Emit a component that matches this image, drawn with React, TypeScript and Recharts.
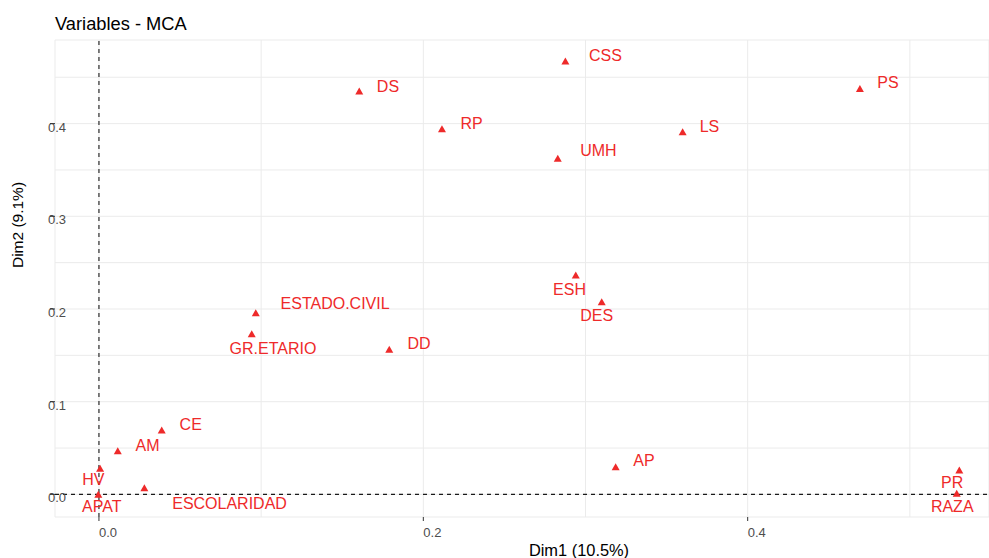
import React from 'react';
import { ScatterChart, Scatter, XAxis, YAxis, CartesianGrid, ReferenceLine } from 'recharts';

const categories = ['CSS', 'PS', 'LS', 'UMH', 'DS', 'RP', 'ESH', 'DES', 'ESTADO.CIVIL', 'GR.ETARIO', 'DD', 'CE', 'AM', 'HV', 'ESCOLARIDAD', 'APAT', 'AP', 'PR', 'RAZA'];
const dim1 = [0.2876, 0.4692, 0.3599, 0.2829, 0.1605, 0.2115, 0.294, 0.31, 0.0967, 0.0942, 0.179, 0.0387, 0.0116, 0.0007, 0.028, -0.0004, 0.3186, 0.5305, 0.5289];
const dim2 = [0.4675, 0.438, 0.3913, 0.3626, 0.4352, 0.3945, 0.2367, 0.2079, 0.196, 0.1734, 0.1565, 0.0695, 0.0471, 0.0282, 0.0072, 0.0001, 0.0299, 0.0263, 0.0012];

// repelled label offsets (pixels from the point to the label centre)
const labelDx = [40, 28, 26.8, 40.6, 28.7, 29.7, -6.2, -5, 79.3, 21.3, 29.7, 29, 29.8, -6.7, 85.2, 3.4, 28.3, -7.1, -4.5];
const labelDy = [-6, -6, -5.7, -7.6, -4.8, -5.4, 14.5, 13.3, -9.7, 15, -6, -6, -5.7, 11.4, 15.6, 12, -6.7, 12.5, 13];

const xTicks = [0, 0.1, 0.2, 0.3, 0.4, 0.5];
const xLabelTicks = [0, 0.2, 0.4];
const yTicks = [0, 0.05, 0.1, 0.15, 0.2, 0.25, 0.3, 0.35, 0.4, 0.45];
const yLabelTicks = [0, 0.1, 0.2, 0.3, 0.4];

const data = categories.map((name, i) => ({ name, x: dim1[i], y: dim2[i], dx: labelDx[i], dy: labelDy[i] }));

const RED = '#EE2A2A';
const FONT = '"Liberation Sans", Arial, Helvetica, sans-serif';

const isMajor = (v: number, list: number[]) => list.some((t) => Math.abs(t - v) < 1e-9);

const XTick = (props: any) => {
  const { x, payload } = props;
  if (!isMajor(payload.value, xLabelTicks)) return null;
  return (
    <g>
      <line x1={x} x2={x} y1={517} y2={521} stroke="#333" strokeWidth={1} />
      <text x={x} y={537} textAnchor="start" fontSize={13} fill="#4D4D4D" fontFamily={FONT}>
        {payload.value.toFixed(1)}
      </text>
    </g>
  );
};

const YTick = (props: any) => {
  const { y, payload } = props;
  if (!isMajor(payload.value, yLabelTicks)) return null;
  return (
    <g>
      <text x={48} y={y + 8} textAnchor="start" fontSize={13} fill="#4D4D4D" fontFamily={FONT}>
        {payload.value.toFixed(1)}
      </text>
      <line x1={50} x2={55} y1={y} y2={y} stroke="#333" strokeWidth={1} />
    </g>
  );
};

const PointShape = (props: any) => {
  const { cx, cy, payload } = props;
  if (cx == null || cy == null) return null;
  return (
    <g>
      <polygon points={`${cx - 4},${cy + 3.5} ${cx + 4},${cy + 3.5} ${cx},${cy - 3.5}`} fill={RED} />
      <text
        x={cx + payload.dx}
        y={cy + payload.dy + 5.7}
        textAnchor="middle"
        fontSize={16}
        fill={RED}
        fontFamily={FONT}
      >
        {payload.name}
      </text>
    </g>
  );
};

export default function App() {
  return (
    <div style={{ position: 'absolute', left: 0, top: 0, width: 989, height: 558, background: '#fff', fontFamily: FONT }}>
      <ScatterChart width={989} height={558} margin={{ top: 40, right: 0, bottom: 0, left: 0 }}>
        <CartesianGrid stroke="#EBEBEB" strokeWidth={1} />
        <XAxis
          type="number"
          dataKey="x"
          domain={[-0.0271, 0.5488]}
          allowDataOverflow
          ticks={xTicks}
          height={41}
          axisLine={false}
          tickLine={false}
          tick={<XTick />}
          interval={0}
        />
        <YAxis
          type="number"
          dataKey="y"
          domain={[-0.0244, 0.4902]}
          allowDataOverflow
          ticks={yTicks}
          width={55}
          axisLine={false}
          tickLine={false}
          tick={<YTick />}
          interval={0}
        />
        <ReferenceLine x={0} stroke="#1A1A1A" strokeDasharray="4 4" strokeWidth={1.1} />
        <ReferenceLine y={0} stroke="#1A1A1A" strokeDasharray="4 4" strokeWidth={1.1} />
        <Scatter data={data} isAnimationActive={false} shape={<PointShape />} />
        <text x={55} y={30} fontSize={18.3} fill="#000" fontFamily={FONT}>Variables - MCA</text>
        <text x={579} y={556} fontSize={16.4} fill="#000" textAnchor="middle" fontFamily={FONT}>Dim1 (10.5%)</text>
        <text x={22.7} y={225} fontSize={15.5} fill="#000" textAnchor="middle" fontFamily={FONT} transform="rotate(-90, 22.7, 225)">Dim2 (9.1%)</text>
      </ScatterChart>
    </div>
  );
}
